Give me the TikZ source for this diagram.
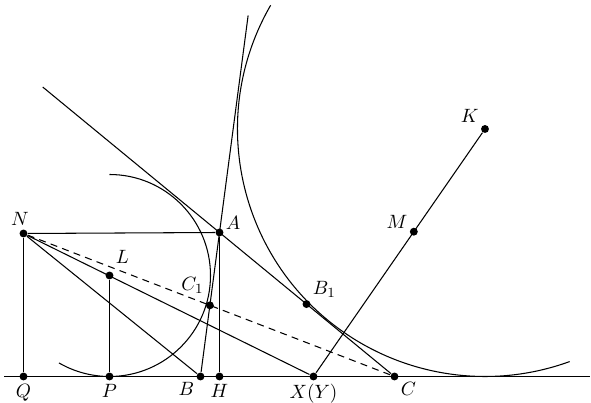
\documentclass[tikz,border=0pt]{standalone}
\usepackage{amsmath,amssymb}
\usetikzlibrary{calc}

\begin{document}
\begin{tikzpicture}[semithick, dot/.style={circle, fill, inner sep=0pt, minimum size=4.5pt},
    every label/.style={inner sep=1.5pt, font=\fontsize{11}{13}\selectfont}]
    \useasboundingbox (-0.47,-0.53) rectangle (11.35,7.53);

    % Points on the base line
    \node[dot, label={below:$Q$}] (Q) at (0,0) {};
    \node[dot, label={below:$P$}] (P) at (1.72,0) {};
    \node[dot, label={below left:$B$}] (B) at (3.54,0) {};
    \node[dot, label={below:$H$}] (H) at (3.92,0) {};
    \node[dot, label={below:$X(Y)$}] (X) at (5.8,0) {};
    \node[dot, label={below right:$C$}] (C) at (7.42,0) {};
    \coordinate (bl) at (-0.38,0);
    \coordinate (br) at (11.34,0);

    % Other points
    \node[dot, label={[xshift=-2pt]above:$N$}] (N) at (0,2.86) {};
    \node[dot, label={[yshift=3pt]above right:$L$}] (L) at (1.72,2.02) {};
    \node[dot, label={[yshift=-2pt]above right:$A$}] (A) at (3.92,2.88) {};
    \node[dot, label={[yshift=3pt]above left:$C_1$}] (C1) at ($(B)!0.494!(A)$) {};
    \node[dot, label={above right:$B_1$}] (B1) at ($(A)!0.497!(C)$) {};
    \node[dot, label={above left:$K$}] (K) at (9.23,4.95) {};
    \node[dot, label={[yshift=-2pt]above left:$M$}] (M) at ($(X)!0.585!(K)$) {};
    \coordinate (tl) at ($(C)!2.01!(A)$);
    \coordinate (tb) at ($(B)!2.507!(A)$);

    % Base line and the two sides
    \draw (bl) -- (br);
    \draw (tl) -- (C);
    \draw (B) -- (tb);

    % Circles round L and K
    \draw ([shift={(90:2.02)}]L.center) arc (90:-120:2.02);
    \draw ([shift={(150:4.95)}]K.center) arc (150:290:4.95);

    % Lines from N
    \draw (N) -- (A);
    \draw (N) -- (Q);
    \draw (N) -- (B);
    \draw (N) -- (X);
    \draw[dash pattern=on 4pt off 3pt] (N) -- (C);

    % Perpendiculars and the line X K
    \draw (L) -- (P);
    \draw (A) -- (H);
    \draw (X) -- (K);
\end{tikzpicture}
\end{document}
